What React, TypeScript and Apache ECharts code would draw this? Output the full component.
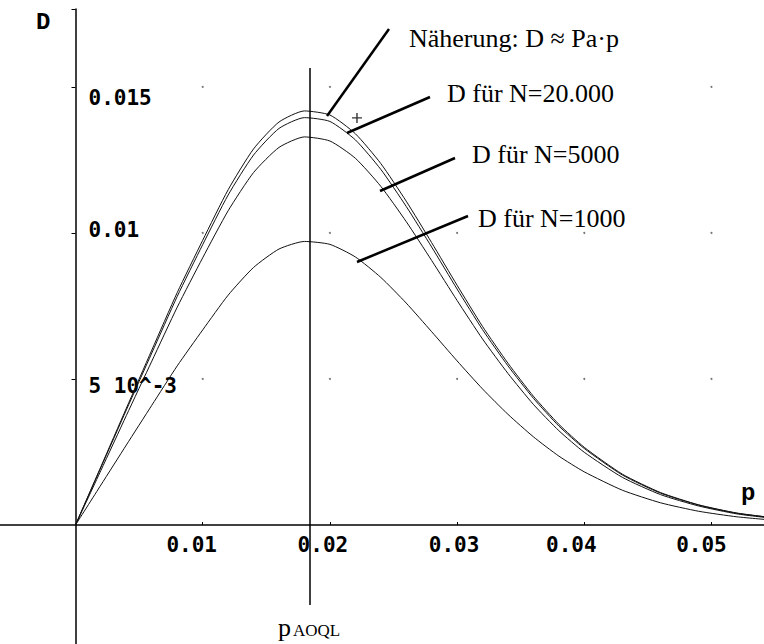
import { useEffect, useRef } from 'react';
import * as echarts from 'echarts';

// p values (fraction defective) at which the curves were read
const pValues = [0, 0.002, 0.004, 0.006, 0.008, 0.01, 0.012, 0.014, 0.016, 0.018, 0.02, 0.022, 0.024, 0.026, 0.028, 0.03, 0.032, 0.034, 0.036, 0.038, 0.04, 0.043, 0.046, 0.049, 0.052, 0.055];
// Näherung: D ≈ Pa·p
const dApprox = [0, 0.002, 0.004, 0.00599, 0.00796, 0.00975, 0.01148, 0.01288, 0.0138, 0.01418, 0.01404, 0.0134, 0.01238, 0.01109, 0.00967, 0.00821, 0.0068, 0.00554, 0.00441, 0.00345, 0.00266, 0.00174, 0.00111, 0.00069, 0.00041, 0.00024];
// D für N=20.000
const dN20000 = [0, 0.00197, 0.00394, 0.00589, 0.00783, 0.0096, 0.0113, 0.01267, 0.01358, 0.01395, 0.01382, 0.01319, 0.01218, 0.01091, 0.00952, 0.00808, 0.00669, 0.00545, 0.00434, 0.00339, 0.00262, 0.00171, 0.00109, 0.00068, 0.0004, 0.00024];
// D für N=5000
const dN5000 = [0, 0.00187, 0.00375, 0.00561, 0.00746, 0.00915, 0.01076, 0.01207, 0.01293, 0.01329, 0.01315, 0.01256, 0.0116, 0.01039, 0.00906, 0.00769, 0.00637, 0.00519, 0.00413, 0.00323, 0.00249, 0.00163, 0.00104, 0.00065, 0.00038, 0.00022];
// D für N=1000
const dN1000 = [0, 0.00137, 0.00274, 0.0041, 0.00545, 0.00668, 0.00787, 0.00882, 0.00945, 0.00971, 0.00961, 0.00918, 0.00848, 0.0076, 0.00662, 0.00562, 0.00466, 0.00379, 0.00302, 0.00236, 0.00182, 0.00119, 0.00076, 0.00047, 0.00028, 0.00016];

const xTicks = [0.01, 0.02, 0.03, 0.04, 0.05];
const xTickLabels = ['0.01', '0.02', '0.03', '0.04', '0.05'];
const yTicks = [0.005, 0.01, 0.015];
const yTickLabels = ['5 10^-3', '0.01', '0.015'];

const pAOQL = 0.01845;
const pAOQLLineTop = 0.01565;
const pAOQLLineBottom = -0.00274;
const plusMark = [0.02213, 0.01394];

const annotations = ['Näherung: D ≈ Pa·p', 'D für N=20.000', 'D für N=5000', 'D für N=1000'];

const MONO = '"DejaVu Sans Mono", monospace';
const SERIF = '"Liberation Serif", "Times New Roman", serif';
const CMONO = '"Liberation Mono", "Courier New", monospace';

const X_MAX = 0.05413;
const Y_MAX = 0.01767;

function findIdx(arr: number[], v: number) {
  for (let i = 0; i < arr.length; i++) if (Math.abs(arr[i] - v) < 1e-9) return i;
  return -1;
}

const xShift = [22, 14, 6, 26, 20];
const yPad: number[][] = [[15, 0, 0, 0], [0, 0, 5, 0], [22, 0, 0, 0]];

function buildOption() {
  const labelFont = { fontFamily: MONO, fontWeight: 'bold' as const, fontSize: 21, color: '#000' };
  const xRich: Record<string, any> = {};
  xTicks.forEach((_, i) => {
    xRich['x' + i] = { ...labelFont, padding: [0, xShift[i], 0, 0] };
  });
  const yRich: Record<string, any> = {};
  yTicks.forEach((_, i) => {
    yRich['y' + i] = { ...labelFont, padding: yPad[i] };
  });
  const curveStyle = { color: '#111', width: 1 };
  const mk = (name: string, d: number[]) => ({
    name,
    type: 'line',
    xAxisIndex: 0,
    yAxisIndex: 0,
    data: pValues.map((p, i) => [p, d[i]]),
    showSymbol: false,
    smooth: 0.2,
    lineStyle: curveStyle,
    itemStyle: { color: '#111' },
    silent: true,
    z: 3,
  });
  const gridDots = xTicks.flatMap((x) => yTicks.map((y) => [x, y]));
  const lineSty = { stroke: '#000', lineWidth: 2.5 };
  const txt = (text: string, x: number, baseline: number, size: number, font: string, weight = 'normal') => ({
    type: 'text',
    x,
    y: baseline - 0.3375 * size,
    silent: true,
    style: {
      text,
      fontFamily: font,
      fontSize: size,
      fontWeight: weight,
      fill: '#000',
      align: 'left',
      verticalAlign: 'middle',
    },
    z: 10,
  });
  return {
    animation: false,
    backgroundColor: '#fff',
    grid: [
      // full-canvas grid: axis lines through the origin, curves
      { left: -51.7, top: 9, width: 815.7, height: 662, containLabel: false, outerBoundsMode: 'none' },
      // quadrant grid whose edges sit on the axes: ticks and tick labels
      { left: 75.5, top: 9, width: 688.5, height: 516, containLabel: false, outerBoundsMode: 'none' },
    ],
    xAxis: [
      {
        type: 'value',
        gridIndex: 0,
        min: -0.01,
        max: X_MAX,
        interval: 0.01,
        splitLine: { show: false },
        axisLine: { show: true, onZero: true, lineStyle: { color: '#000', width: 1.5 } },
        axisTick: { show: false },
        axisLabel: { show: false },
      },
      {
        type: 'value',
        gridIndex: 1,
        min: 0,
        max: X_MAX,
        interval: 0.01,
        splitLine: { show: false },
        axisLine: { show: false, onZero: false },
        axisTick: { show: true, inside: true, length: 3, lineStyle: { color: '#000', width: 1 } },
        axisLabel: {
          margin: 9,
          ...labelFont,
          rich: xRich,
          showMinLabel: false,
          formatter: (v: number) => {
            const i = findIdx(xTicks, v);
            return i < 0 ? '' : `{x${i}|${xTickLabels[i]}}`;
          },
        },
      },
    ],
    yAxis: [
      {
        type: 'value',
        gridIndex: 0,
        min: -0.005,
        max: Y_MAX,
        interval: 0.005,
        splitLine: { show: false },
        axisLine: { show: true, onZero: true, lineStyle: { color: '#000', width: 1.5 } },
        axisTick: { show: false },
        axisLabel: { show: false },
      },
      {
        type: 'value',
        gridIndex: 1,
        min: 0,
        max: Y_MAX,
        interval: 0.005,
        splitLine: { show: false },
        axisLine: { show: false, onZero: false },
        axisTick: { show: true, inside: false, length: 4, lineStyle: { color: '#000', width: 1 } },
        axisLabel: {
          inside: true,
          margin: 13,
          ...labelFont,
          rich: yRich,
          showMinLabel: false,
          formatter: (v: number) => {
            const i = findIdx(yTicks, v);
            return i < 0 ? '' : `{y${i}|${yTickLabels[i]}}`;
          },
        },
      },
    ],
    series: [
      mk(annotations[0], dApprox),
      mk(annotations[1], dN20000),
      mk(annotations[2], dN5000),
      mk(annotations[3], dN1000),
      {
        type: 'scatter',
        xAxisIndex: 0,
        yAxisIndex: 0,
        data: gridDots,
        symbolSize: 2,
        itemStyle: { color: '#555' },
        silent: true,
        z: 2,
      },
      {
        type: 'scatter',
        xAxisIndex: 0,
        yAxisIndex: 0,
        data: [plusMark],
        symbol: 'path://M4.3,0h1.4v4.3h4.3v1.4h-4.3v4.3h-1.4v-4.3h-4.3v-1.4h4.3z',
        symbolSize: 10,
        itemStyle: { color: '#000' },
        silent: true,
        z: 4,
        markLine: {
          silent: true,
          symbol: 'none',
          label: { show: false },
          lineStyle: { color: '#000', width: 1.5, type: 'solid' },
          data: [[{ coord: [pAOQL, pAOQLLineTop] }, { coord: [pAOQL, pAOQLLineBottom] }]],
        },
      },
    ],
    graphic: [
      { type: 'line', silent: true, shape: { x1: 389, y1: 29, x2: 327, y2: 116 }, style: lineSty, z: 10 },
      { type: 'line', silent: true, shape: { x1: 430, y1: 97, x2: 347, y2: 133 }, style: lineSty, z: 10 },
      { type: 'line', silent: true, shape: { x1: 455, y1: 158, x2: 380, y2: 191 }, style: lineSty, z: 10 },
      { type: 'line', silent: true, shape: { x1: 468, y1: 216, x2: 357, y2: 262 }, style: lineSty, z: 10 },
      txt(annotations[0], 409, 47, 26, SERIF),
      txt(annotations[1], 447, 102, 26, SERIF),
      txt(annotations[2], 472, 163, 26, SERIF),
      txt(annotations[3], 478, 227, 26, SERIF),
      txt('p', 278, 636, 26, SERIF),
      txt('AOQL', 293, 636, 17, SERIF),
      txt('D', 36, 31, 24, CMONO, 'bold'),
      txt('p', 741, 502, 24, CMONO, 'bold'),
    ],
  };
}

export default function App() {
  const ref = useRef<HTMLDivElement>(null);
  useEffect(() => {
    if (!ref.current) return;
    const chart = echarts.init(ref.current, null, { renderer: 'svg' });
    chart.setOption(buildOption() as any);
    return () => chart.dispose();
  }, []);
  return (
    <div
      ref={ref}
      style={{ position: 'fixed', left: 0, top: 0, width: 764, height: 644, background: '#fff' }}
    />
  );
}
